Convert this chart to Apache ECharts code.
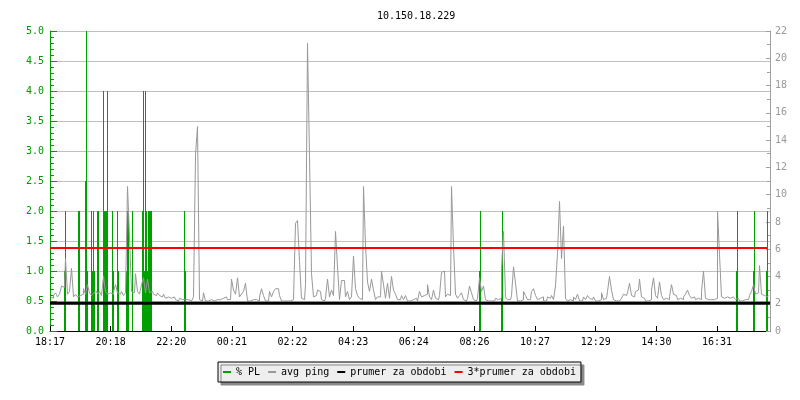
<!DOCTYPE html>
<html>
<head>
<meta charset="utf-8">
<script src="https://cdn.jsdelivr.net/npm/echarts@6/dist/echarts.min.js"></script>
<style>html,body{margin:0;padding:0;background:#fff}#c{width:800px;height:400px}</style>
</head>
<body>
<div id="c"></div>
<script>
// x axis: minutes since 18:17 (24 h window)
const tickLabels = ['18:17','20:18','22:20','00:21','02:22','04:23','06:24','08:26','10:27','12:29','14:30','16:31'];
const tickStep = 121.27;
const pingStart = 1; // minute of the first avg ping sample
const pingStep = 4;  // minutes between avg ping samples
// avg ping [ms], one row per hour, 15 samples each
const avgPing = [
  2.5,2.4,2.6,2.8,2.5,2.7,3.3,3.2,5.3,2.7,2.9,4.6,2.5,2.7,2.5,
  2.6,2.7,3.1,2.7,3.4,2.8,2.6,2.8,2.9,2.7,2.9,2.6,4.0,2.9,2.7,
  2.8,2.7,2.9,3.4,2.8,2.7,2.9,2.6,2.8,10.6,6.9,2.9,2.8,4.2,2.9,
  2.7,3.4,3.9,2.8,3.8,2.8,2.9,2.7,2.6,2.8,2.6,2.5,2.7,2.4,2.5,
  2.4,2.3,2.5,2.3,2.2,2.4,2.3,2.3,2.2,2.3,2.2,2.2,2.5,12.9,15.0,
  2.3,2.2,2.8,2.2,2.2,2.3,2.2,2.2,2.3,2.2,2.3,2.4,2.3,2.5,2.3,
  2.3,3.8,3.0,2.7,3.9,2.5,2.7,2.9,3.5,2.2,2.2,2.3,2.2,2.3,2.2,
  2.5,3.1,2.6,2.2,2.2,2.9,2.5,2.9,3.1,3.1,2.6,2.2,2.2,2.2,2.2,
  2.2,2.3,2.2,7.9,8.1,5.1,2.4,2.3,3.4,21.1,12.8,4.2,2.5,2.6,3.0,
  2.9,2.3,2.2,2.4,3.8,2.5,3.0,2.6,7.3,4.7,2.3,3.7,3.7,2.5,2.9,
  2.3,2.5,5.5,3.1,2.6,2.4,2.3,10.6,6.3,3.6,2.9,3.8,3.0,2.3,2.5,
  2.5,4.4,3.4,2.4,3.5,2.4,4.0,3.0,2.7,2.3,2.3,2.6,2.3,2.6,2.2,
  2.2,2.3,2.2,2.4,2.2,2.9,2.5,2.6,2.7,3.4,2.5,2.3,3.0,2.4,2.3,
  2.6,4.3,4.4,2.5,2.7,2.6,10.6,6.2,2.7,2.4,2.6,2.8,2.3,2.2,2.4,
  3.3,2.8,2.3,2.2,2.4,3.9,2.9,3.3,2.3,2.2,2.2,2.3,2.2,2.4,2.3,
  2.4,4.6,7.3,2.5,2.3,2.3,2.6,4.7,3.5,2.2,2.2,2.3,2.9,2.6,2.3,
  2.3,2.9,3.1,2.6,2.3,2.4,2.5,2.2,2.2,2.5,2.4,2.6,2.3,3.3,5.7,
  9.5,5.3,7.7,2.4,2.2,2.3,2.2,2.5,2.3,2.7,2.2,2.2,2.5,2.3,2.6,
  2.4,2.3,2.5,2.2,2.2,2.3,2.8,2.3,2.4,2.9,4.0,3.0,2.3,2.2,2.2,
  2.3,2.4,2.7,2.6,2.8,3.5,2.6,2.5,2.9,3.0,3.8,2.5,2.4,2.2,2.2,
  2.3,3.0,3.9,2.6,2.4,3.6,2.6,2.3,2.4,2.3,2.5,3.4,2.7,2.6,2.3,
  2.4,2.3,2.5,2.7,3.0,2.6,2.4,2.5,2.3,2.4,2.3,2.9,4.4,2.4,2.3,
  2.3,2.4,2.3,2.4,8.8,5.6,2.5,2.4,2.5,2.6,2.4,2.5,2.4,2.3,2.4,
  2.2,2.2,2.3,2.2,2.3,2.6,2.9,3.4,2.7,2.8,4.8,2.7,2.6,2.5,2.6
];
// packet loss events [minute, %]
const plTimes  = [29,31,57,59,71,73,75,83,85,87,89,95,97,107,109,111,113,115,125,127,135,137,153,155,157,165,185,187,189,191,193,195,197,199,201,203,269,271,859,861,903,905,1373,1375,1407,1409,1433,1435];
const plValues = [1,2,2,2,2.5,5,1,2,1,2,1,2,2,4,2,2,2,4,2,1,2,1,1,2,2,2,2,4,1,4,2,1,2,2,2,2,2,1,1,2,1,2,1,2,1,2,1,2];
const avgPeriod = 2.03;
const avgPeriod3 = 6.09;
const xMax = 1440;

const FONT = 'DejaVu Sans Mono';
const GREEN = '#00a000';
const pingData = avgPing.map((v, i) => [pingStart + i * pingStep, v]);
const plData = plTimes.map((t, i) => [t, plValues[i]]);
const tickVals = tickLabels.map((_, i) => i * tickStep);

const chart = echarts.init(document.getElementById('c'), null, {renderer: 'canvas'});
chart.setOption({
  animation: false,
  backgroundColor: '#ffffff',
  title: {
    text: '10.150.18.229', left: 372, top: 6,
    textStyle: {fontFamily: FONT, fontSize: 10, fontWeight: 'normal', color: '#000'}
  },
  legend: {
    left: 218, top: 362, padding: [5, 5],
    backgroundColor: '#eeeeee', borderColor: '#000', borderWidth: 1,
    shadowColor: '#888', shadowBlur: 0, shadowOffsetX: 3, shadowOffsetY: 3,
    itemWidth: 8, itemHeight: 2, itemGap: 8, icon: 'rect',
    textStyle: {fontFamily: FONT, fontSize: 10, color: '#000'},
    data: ['% PL', 'avg ping', 'prumer za obdobi', '3*prumer za obdobi']
  },
  grid: {left: 50, right: 30, top: 31, bottom: 69, containLabel: false},
  xAxis: {
    type: 'value', min: 0, max: xMax,
    axisLine: {lineStyle: {color: '#000', width: 1}},
    axisTick: {inside: true, length: 5, customValues: tickVals, lineStyle: {color: '#000'}},
    axisLabel: {
      customValues: tickVals, margin: 6, color: '#000', fontFamily: FONT, fontSize: 10,
      formatter: v => tickLabels[Math.round(v / tickStep)] || ''
    },
    splitLine: {show: false}
  },
  yAxis: [
    {
      type: 'value', min: 0, max: 5, interval: 0.5, position: 'left',
      axisLine: {show: true, lineStyle: {color: '#009900'}},
      axisTick: {show: true, inside: true, length: 7, lineStyle: {color: '#009900'}},
      minorTick: {show: true, splitNumber: 5, length: 4, lineStyle: {color: '#009900'}},
      axisLabel: {color: '#009900', fontFamily: FONT, fontSize: 10, margin: 6, formatter: v => v.toFixed(1)},
      splitLine: {show: true, lineStyle: {color: '#c0c0c0', width: 1}}
    },
    {
      type: 'value', min: 0, max: 22, interval: 2, position: 'right',
      axisLine: {show: true, lineStyle: {color: '#a0a0a0'}},
      axisTick: {show: true, inside: true, length: 4, lineStyle: {color: '#a0a0a0'}},
      minorTick: {show: true, splitNumber: 2, length: 3, lineStyle: {color: '#a0a0a0'}},
      axisLabel: {color: '#999999', fontFamily: FONT, fontSize: 10, margin: 5},
      splitLine: {show: false}
    }
  ],
  series: [
    {
      name: '% PL', type: 'custom', yAxisIndex: 0, data: plData,
      color: GREEN, itemStyle: {color: GREEN}, clip: true,
      encode: {x: 0, y: 1},
      renderItem: (params, api) => {
        const base = api.coord([api.value(0), 0]);
        const top = api.coord([api.value(0), api.value(1)]);
        return {
          type: 'rect',
          shape: {x: Math.floor(base[0]), y: top[1], width: 1, height: base[1] - top[1]},
          style: {fill: GREEN}
        };
      }
    },
    {
      name: 'avg ping', type: 'line', yAxisIndex: 1, data: pingData, step: 'middle',
      showSymbol: false, symbol: 'none', color: '#999999',
      lineStyle: {color: '#999999', width: 1}
    },
    {
      name: 'prumer za obdobi', type: 'line', yAxisIndex: 1,
      data: [[0, avgPeriod], [xMax, avgPeriod]], symbol: 'none', color: '#000',
      lineStyle: {color: '#000', width: 3}
    },
    {
      name: '3*prumer za obdobi', type: 'line', yAxisIndex: 1,
      data: [[0, avgPeriod3], [xMax - 6, avgPeriod3]], symbol: 'none', color: '#ff0000',
      lineStyle: {color: '#ff0000', width: 2}
    }
  ]
});
</script>
</body>
</html>
